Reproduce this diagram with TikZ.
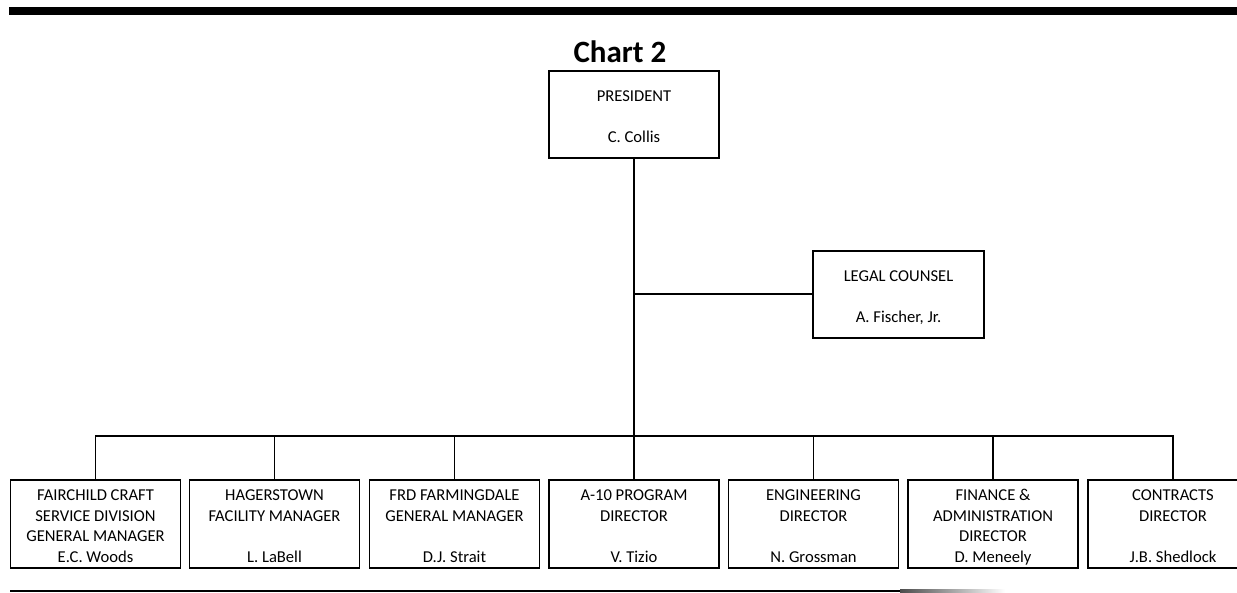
\documentclass[tikz,border=0pt]{standalone}
\usepackage{fontspec}
\setmainfont{Carlito}
\newcommand{\topstrut}{\rule{0pt}{17.5pt}}
\newcommand{\botstrut}{\vphantom{y}}
\begin{document}
\begin{tikzpicture}[x=1pt,y=-1pt,line width=1.2pt,
		post/.style={draw,line width=1.2pt,minimum width=170pt,minimum height=87pt,inner sep=0pt,align=center,
			font=\fontsize{16.6}{20.6}\selectfont},
		link/.style={line width=1.7pt}]
				\useasboundingbox (0,0) rectangle (1237,592);
				\clip (0,0) rectangle (1237,592);
				% rules
				\fill (9,6.5) rectangle (1237,15);
				\fill (10,589.5) rectangle (900,592);
				\shade[left color=black!70,right color=white] (900,589.5) rectangle (1005,592);
				\node[anchor=base,font=\fontsize{31}{36}\selectfont\bfseries] (title) at (620,62) {Chart 2};
				% top
				\node[post] (pres) at (634,114.5) {\topstrut PRESIDENT\\~\\C. Collis\botstrut};
				\node[post,minimum width=171pt] (legal) at (898.5,294.5) {\topstrut LEGAL COUNSEL\\~\\A. Fischer, Jr.\botstrut};
				% departments
				\node[post,minimum height=88pt] (fcsd) at (95.5,524) {\topstrut FAIRCHILD CRAFT\\SERVICE DIVISION\\GENERAL MANAGER\\E.C. Woods\botstrut};
				\node[post,minimum height=88pt] (hag) at (274.5,524) {\topstrut HAGERSTOWN\\FACILITY MANAGER\\~\\L. LaBell\botstrut};
				\node[post,minimum height=88pt] (frd) at (454.5,524) {\topstrut FRD FARMINGDALE\\GENERAL MANAGER\\~\\D.J. Strait\botstrut};
				\node[post,minimum height=88pt] (prog) at (634,524) {\topstrut A-10 PROGRAM\\DIRECTOR\\~\\V. Tizio\botstrut};
				\node[post,minimum height=88pt] (eng) at (813.5,524) {\topstrut ENGINEERING\\DIRECTOR\\~\\N. Grossman\botstrut};
				\node[post,minimum height=88pt] (fin) at (993,524) {\topstrut FINANCE \&\\ADMINISTRATION\\DIRECTOR\\D. Meneely\botstrut};
				\node[post,minimum height=88pt] (contr) at (1173,524) {\topstrut CONTRACTS\\DIRECTOR\\~\\J.B. Shedlock\botstrut};
				% lines
				\coordinate (bus) at (634,436);
				\coordinate (tap) at (634,294);
				\draw[link] (pres.south)--(bus);
				\draw[link] (tap)--(tap-|legal.west);
				\draw[link] (fcsd.north)--(fcsd.north|-bus)--(contr.north|-bus)--(contr.north);
				\foreach \n in {hag,frd,prog,eng,fin}
					\draw[link] (\n.north)--(\n.north|-bus);
			\end{tikzpicture}
\end{document}
